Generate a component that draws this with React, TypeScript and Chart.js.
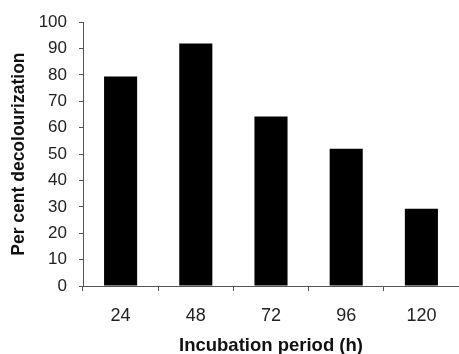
import React, { useEffect, useRef } from "react";
import { Chart, registerables } from "chart.js";

Chart.register(...registerables);

const categories = ["24", "48", "72", "96", "120"];
const decolourization = [79.4, 91.9, 64.3, 52.0, 29.3];
const yTicks = [0, 10, 20, 30, 40, 50, 60, 70, 80, 90, 100];

export default function App() {
  const ref = useRef<HTMLCanvasElement | null>(null);

  useEffect(() => {
    document.body.style.margin = "0";
    if (!ref.current) return;
    const chart = new Chart(ref.current, {
      type: "bar",
      data: {
        labels: categories,
        datasets: [
          {
            data: decolourization,
            backgroundColor: "#000000",
            borderWidth: 0,
            barPercentage: 0.44,
            categoryPercentage: 1,
          },
        ],
      },
      options: {
        animation: false,
        responsive: false,
        maintainAspectRatio: false,
        layout: { padding: { top: 21, right: 0, left: 0, bottom: 0 } },
        plugins: { legend: { display: false }, tooltip: { enabled: false } },
        scales: {
          x: {
            offset: true,
            grid: {
              offset: true,
              drawOnChartArea: false,
              drawTicks: true,
              tickLength: 5,
              color: "#555",
            },
            border: { color: "#555", width: 1 },
            ticks: {
              color: "#222",
              font: { family: "Liberation Sans, Arial", size: 18 },
              padding: 14,
            },
            title: {
              display: true,
              text: "Incubation period (h)",
              color: "#111",
              font: { family: "Liberation Sans, Arial", size: 18.5, weight: "bold" },
              padding: { top: 8, bottom: -3 },
            },
            afterFit: (scale: any) => {
              scale.height = 68;
            },
          },
          y: {
            min: 0,
            max: 100,
            afterBuildTicks: (scale: any) => {
              scale.ticks = yTicks.map((v) => ({ value: v }));
            },
            grid: {
              drawOnChartArea: false,
              drawTicks: true,
              tickLength: 4,
              color: "#555",
            },
            border: { color: "#555", width: 1 },
            ticks: {
              color: "#222",
              font: { family: "Liberation Sans, Arial", size: 17 },
              padding: 12,
            },
            title: {
              display: true,
              text: "Per cent decolourization",
              color: "#111",
              font: { family: "Liberation Sans, Arial", size: 17.5, weight: "bold" },
              padding: { top: 9, bottom: 0 },
            },
            afterFit: (scale: any) => {
              scale.width = 83;
            },
          },
        },
      },
    });
    return () => chart.destroy();
  }, []);

  return (
    <div style={{ width: 459, height: 354, background: "#fff" }}>
      <canvas ref={ref} width={459} height={354} style={{ display: "block" }} />
    </div>
  );
}
